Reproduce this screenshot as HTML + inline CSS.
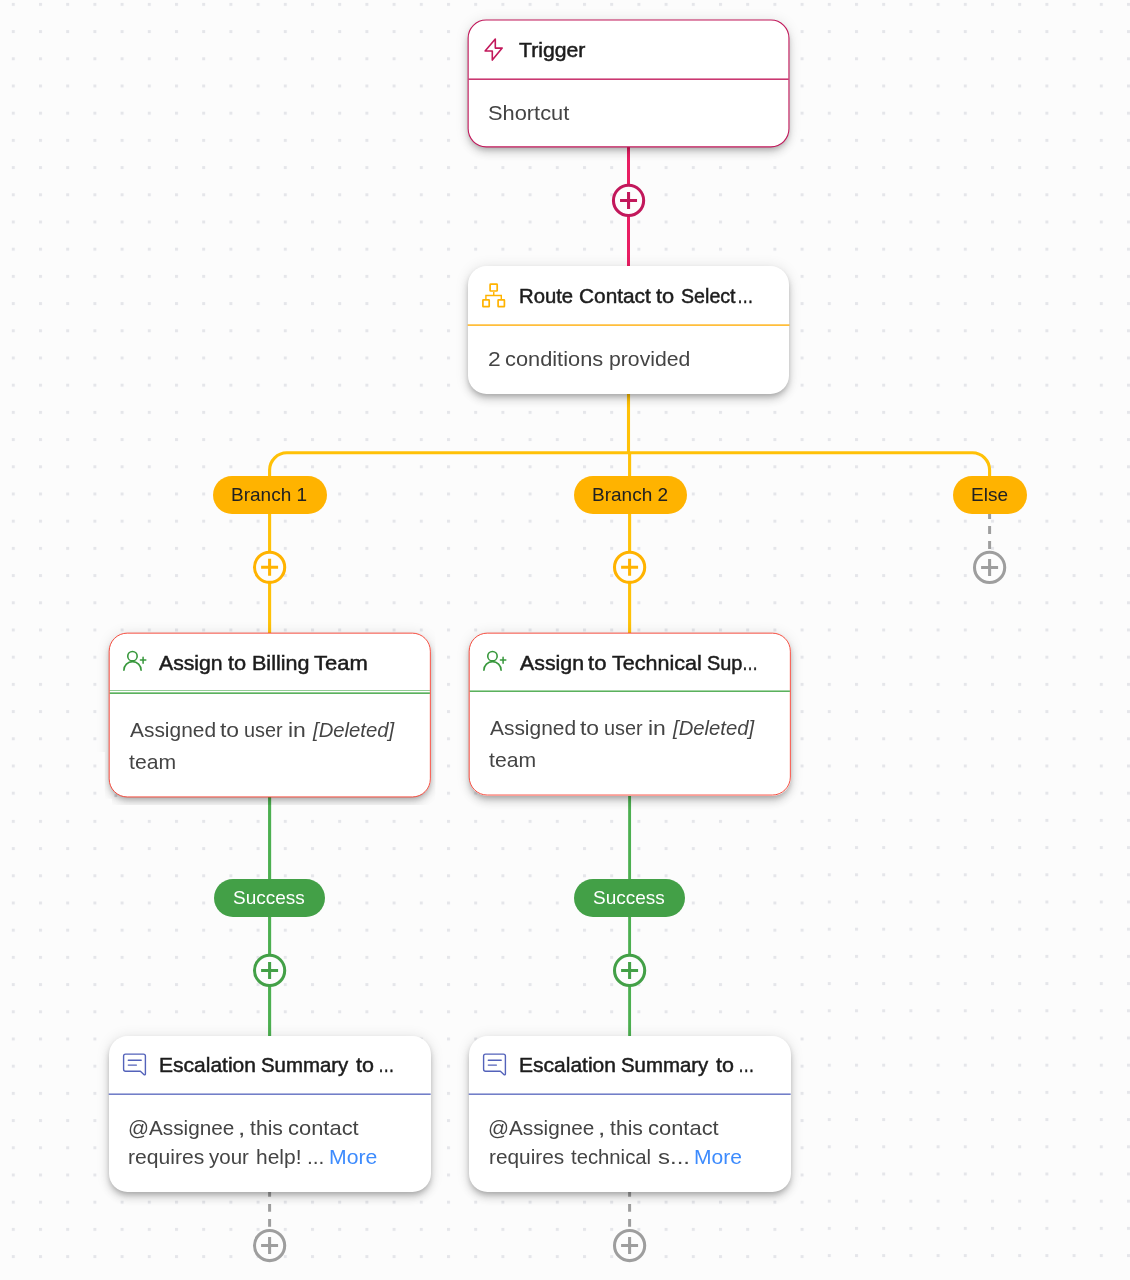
<!DOCTYPE html>
<html lang="en">
<head>
<meta charset="utf-8">
<title>Workflow</title>
<style>
html,body{margin:0;padding:0;}
body{width:1130px;height:1280px;overflow:hidden;position:relative;background:#fcfcfc;font-family:"Liberation Sans",sans-serif;}
#bg,#lines,#icons{position:absolute;left:0;top:0;width:1130px;height:1280px;}
#lines{z-index:1;}
#txt{position:absolute;left:0;top:0;width:1130px;height:1280px;z-index:4;will-change:transform;}
#icons{z-index:5;pointer-events:none;}
.node{position:absolute;box-sizing:border-box;background:#fff;border-radius:18.5px;
  box-shadow:0 3px 5px -1px rgba(0,0,0,.19),0 6px 8px 0 rgba(0,0,0,.135),0 1px 14px 0 rgba(0,0,0,.115);z-index:2;}
.t{position:absolute;white-space:nowrap;font-size:21px;line-height:24px;color:#1c1c1c;font-weight:normal;-webkit-text-stroke:0.5px #1c1c1c;transform-origin:0 50%;z-index:4;}
.b{position:absolute;white-space:nowrap;font-size:21px;line-height:24px;color:#444;transform-origin:0 50%;z-index:4;}
.i{font-style:italic;}
.more{color:#3d8bfd;}
.pill{position:absolute;box-sizing:border-box;height:38px;border-radius:19px;z-index:3;text-align:center;font-size:19px;line-height:38px;color:#212121;white-space:nowrap;}
.pill span{will-change:transform;display:inline-block;position:relative;left:-0.7px;}
.amber{background:#ffb300;}
.green{background:#43a047;color:#fff;}
.clip{position:absolute;z-index:2;}
</style>
</head>
<body>
<svg id="bg" width="1130" height="1280">
  <defs>
    <pattern id="dots" x="11.8" y="2.9" width="27.2" height="27.2" patternUnits="userSpaceOnUse">
      <rect x="0" y="0" width="3" height="3" fill="#e5e6ea"/>
    </pattern>
    <pattern id="dots2" x="11.8" y="3.9" width="27.2" height="27.2" patternUnits="userSpaceOnUse">
      <rect x="0" y="0" width="3" height="3" fill="#e5e6ea"/>
    </pattern>
  </defs>
  <rect width="1130" height="1280" fill="url(#dots)"/>
  <rect x="0" y="816" width="816" height="464" fill="#fcfcfc"/>
  <rect x="0" y="816" width="816" height="464" fill="url(#dots2)"/>
  <rect x="114.4" y="794.3" width="2.8" height="2.8" fill="#d6d7dc"/>
</svg>

<svg id="lines" width="1130" height="1280">
  <!-- trigger to route -->
  <line x1="628.5" y1="140" x2="628.5" y2="270" stroke="#e91e63" stroke-width="3"/>
  <!-- route to branches -->
  <g fill="none" stroke="#ffc107" stroke-width="3.1">
    <path d="M628.5 390 V453"/>
    <path d="M629.6 452 V640"/>
    <path d="M269.6 640 V470 A17.3 17.3 0 0 1 286.9 452.75 H972.3 A17.3 17.3 0 0 1 989.6 470 V480"/>
  </g>
  <!-- else dashed -->
  <line x1="989.6" y1="511.1" x2="989.6" y2="552" stroke="#9e9e9e" stroke-width="3" stroke-dasharray="7.8 7.2"/>
  <!-- success lines -->
  <g stroke="#4caf50">
    <line x1="269.6" y1="790" x2="269.6" y2="1040" stroke-width="3.1"/>
    <line x1="629.6" y1="790" x2="629.6" y2="1040" stroke-width="2.9"/>
  </g>
  <!-- bottom dashed -->
  <g stroke="#9e9e9e" stroke-width="3" stroke-dasharray="7.8 7.2">
    <line x1="269.6" y1="1189" x2="269.6" y2="1230"/>
    <line x1="629.6" y1="1189" x2="629.6" y2="1230"/>
  </g>
  <!-- add buttons -->
  <defs>
    <g id="add">
      <circle r="15.1" fill="#fdfdfd" stroke-width="3.05"/>
      <path d="M-8.5 0H8.5M0 -8.5V8.5" stroke-width="3.05" fill="none"/>
    </g>
  </defs>
  <use href="#add" x="628.55" y="200.4" stroke="#c2185b"/>
  <use href="#add" x="269.6" y="567.3" stroke="#ffb300"/>
  <use href="#add" x="629.6" y="567.3" stroke="#ffb300"/>
  <use href="#add" x="989.6" y="567.4" stroke="#9e9e9e"/>
  <use href="#add" x="269.6" y="970.4" stroke="#43a047"/>
  <use href="#add" x="629.6" y="970.4" stroke="#43a047"/>
  <use href="#add" x="269.6" y="1245.5" stroke="#9e9e9e"/>
  <use href="#add" x="629.6" y="1245.5" stroke="#9e9e9e"/>
</svg>

<!-- Trigger -->
<div class="node" style="left:467.6px;top:19.5px;width:321.9px;height:127.9px;"></div>

<!-- Route -->
<div class="node" style="left:467.7px;top:265.8px;width:321.8px;height:127.8px;"></div>

<!-- Branch pills -->
<div class="pill amber" style="left:212.9px;top:475.5px;width:113.7px;"><span>Branch 1</span></div>
<div class="pill amber" style="left:573.6px;top:475.5px;width:113.2px;"><span style="left:0px">Branch 2</span></div>
<div class="pill amber" style="left:952.6px;top:475.5px;width:74.2px;"><span>Else</span></div>

<!-- Assign 1 -->
<div class="clip" style="left:90px;top:615px;width:350px;height:195px;clip-path:polygon(5.00px 0.00px,345.50px 0.00px,345.50px 189.90px,21.80px 189.90px,21.80px 183.85px,14.70px 183.85px,14.70px 137.00px,5.00px 137.00px);"><div class="node" style="left:18.65px;top:17.6px;width:322.25px;height:164.9px;"></div></div>

<!-- Assign 2 -->
<div class="node" style="left:468.65px;top:632.6px;width:322.25px;height:163px;"></div>

<!-- Success pills -->
<div class="pill green" style="left:214.1px;top:878.6px;width:110.5px;"><span>Success</span></div>
<div class="pill green" style="left:574.1px;top:878.6px;width:110.5px;"><span>Success</span></div>

<!-- Escalation 1 -->
<div class="node" style="left:108.7px;top:1035.9px;width:322px;height:155.9px;"></div>

<!-- Escalation 2 -->
<div class="node" style="left:468.7px;top:1035.9px;width:322px;height:155.9px;"></div>

<div id="txt">
<div id="x1_0" class="t" style="left:519.25px;top:38px;transform:scaleX(1.0101)">Trigger</div>
<div id="x2_0" class="b" style="left:487.79px;top:101px;transform:scaleX(1.0397)">Shortcut</div>
<div id="x3_0" class="t" style="left:518.53px;top:283.5px;transform:scaleX(0.9656)">Route </div>
<div id="x3_1" class="t" style="left:578.87px;top:283.5px;transform:scaleX(0.9919)">Contact </div>
<div id="x3_2" class="t" style="left:655.94px;top:283.5px;transform:scaleX(1.0383)">to </div>
<div id="x3_3" class="t nosp" style="left:680.50px;top:283.5px;transform:scaleX(0.9349)">Select</div>
<div id="x3_4" class="t" style="left:736.70px;top:283.5px;transform:scaleX(0.7828)">…</div>
<div id="x4_0" class="b" style="left:488.00px;top:347px;transform:scaleX(1.0892)">2 </div>
<div id="x4_1" class="b" style="left:504.99px;top:347px;transform:scaleX(1.0381)">conditions </div>
<div id="x4_2" class="b" style="left:608.67px;top:347px;transform:scaleX(1.0099)">provided</div>
<div id="x5_0" class="t" style="left:159.40px;top:650.5px;transform:scaleX(1.0097)">Assign </div>
<div id="x5_1" class="t" style="left:228.08px;top:650.5px;transform:scaleX(1.0382)">to </div>
<div id="x5_2" class="t" style="left:251.79px;top:650.5px;transform:scaleX(1.0257)">Billing </div>
<div id="x5_3" class="t" style="left:313.56px;top:650.5px;transform:scaleX(1.0463)">Team</div>
<div id="x6_0" class="b" style="left:129.79px;top:718px;transform:scaleX(0.9956)">Assigned </div>
<div id="x6_1" class="b" style="left:219.83px;top:718px;transform:scaleX(1.0921)">to </div>
<div id="x6_2" class="b" style="left:243.89px;top:718px;transform:scaleX(0.9465)">user </div>
<div id="x6_3" class="b" style="left:288.21px;top:718px;transform:scaleX(1.0935)">in </div>
<div id="x6_4" class="b i" style="left:312.54px;top:718px;transform:scaleX(0.9656)">[Deleted]</div>
<div id="x7_0" class="b" style="left:129.30px;top:750px;transform:scaleX(1.0071)">team</div>
<div id="x8_0" class="t" style="left:520.10px;top:650.5px;transform:scaleX(1.0151)">Assign </div>
<div id="x8_1" class="t" style="left:588.07px;top:650.5px;transform:scaleX(1.0502)">to </div>
<div id="x8_2" class="t" style="left:612.02px;top:650.5px;transform:scaleX(1.0245)">Technical </div>
<div id="x8_3" class="t nosp" style="left:706.80px;top:650.5px;transform:scaleX(0.9479)">Sup</div>
<div id="x8_4" class="t" style="left:742.09px;top:650.5px;transform:scaleX(0.7645)">…</div>
<div id="x9_0" class="b" style="left:489.79px;top:716px;transform:scaleX(0.9956)">Assigned </div>
<div id="x9_1" class="b" style="left:579.83px;top:716px;transform:scaleX(1.0921)">to </div>
<div id="x9_2" class="b" style="left:603.89px;top:716px;transform:scaleX(0.9465)">user </div>
<div id="x9_3" class="b" style="left:648.21px;top:716px;transform:scaleX(1.0935)">in </div>
<div id="x9_4" class="b i" style="left:672.54px;top:716px;transform:scaleX(0.9656)">[Deleted]</div>
<div id="x10_0" class="b" style="left:489.30px;top:748px;transform:scaleX(1.0071)">team</div>
<div id="x11_0" class="t" style="left:158.83px;top:1052.5px;transform:scaleX(1.0007)">Escalation </div>
<div id="x11_1" class="t" style="left:260.50px;top:1052.5px;transform:scaleX(0.9714)">Summary </div>
<div id="x11_2" class="t" style="left:355.93px;top:1052.5px;transform:scaleX(1.0232)">to </div>
<div id="x11_3" class="t" style="left:378.00px;top:1052.5px;transform:scaleX(0.7828)">…</div>
<div id="x12_0" class="b" style="left:128.15px;top:1116px;transform:scaleX(0.9864)">@Assignee </div>
<div id="x12_1" class="b" style="left:238.32px;top:1116px;transform:scaleX(1.2500)">, </div>
<div id="x12_2" class="b" style="left:250.08px;top:1116px;transform:scaleX(1.0073)">this </div>
<div id="x12_3" class="b" style="left:288.24px;top:1116px;transform:scaleX(1.0441)">contact</div>
<div id="x13_0" class="b" style="left:128.33px;top:1145px;transform:scaleX(1.0051)">requires </div>
<div id="x13_1" class="b" style="left:209.24px;top:1145px;transform:scaleX(0.9769)">your </div>
<div id="x13_2" class="b" style="left:256.31px;top:1145px;transform:scaleX(0.9981)">help! </div>
<div id="x13_3" class="b" style="left:307.30px;top:1145px;transform:scaleX(0.9921)">... </div>
<div id="x13_4" class="b more" style="left:329.19px;top:1145px;transform:scaleX(1.0084)">More</div>
<div id="x14_0" class="t" style="left:518.83px;top:1052.5px;transform:scaleX(1.0007)">Escalation </div>
<div id="x14_1" class="t" style="left:620.50px;top:1052.5px;transform:scaleX(0.9714)">Summary </div>
<div id="x14_2" class="t" style="left:715.93px;top:1052.5px;transform:scaleX(1.0232)">to </div>
<div id="x14_3" class="t" style="left:738.00px;top:1052.5px;transform:scaleX(0.7828)">…</div>
<div id="x15_0" class="b" style="left:488.15px;top:1116px;transform:scaleX(0.9864)">@Assignee </div>
<div id="x15_1" class="b" style="left:598.32px;top:1116px;transform:scaleX(1.2500)">, </div>
<div id="x15_2" class="b" style="left:610.08px;top:1116px;transform:scaleX(1.0073)">this </div>
<div id="x15_3" class="b" style="left:648.24px;top:1116px;transform:scaleX(1.0441)">contact</div>
<div id="x16_0" class="b" style="left:488.58px;top:1145px;transform:scaleX(0.9911)">requires </div>
<div id="x16_1" class="b" style="left:571.33px;top:1145px;transform:scaleX(0.9659)">technical </div>
<div id="x16_2" class="b" style="left:657.98px;top:1145px;transform:scaleX(1.1424)">s... </div>
<div id="x16_3" class="b more" style="left:694.09px;top:1145px;transform:scaleX(1.0033)">More</div>
</div>

<svg id="icons" width="1130" height="1280">
  <!-- node borders -->
  <rect x="468.15" y="20.05" width="320.8" height="126.8" rx="18" fill="none" stroke="#c2185b" stroke-width="1.1"/>
  <rect x="109.2" y="633.15" width="321.15" height="163.8" rx="18" fill="none" stroke="#f44336" stroke-width="0.95"/>
  <rect x="469.2" y="633.15" width="321.15" height="161.9" rx="18" fill="none" stroke="#f44336" stroke-width="0.95"/>
  <!-- dividers -->
  <rect x="468.6" y="78.5" width="320" height="1.36" fill="#c2185b"/>
  <rect x="467.7" y="324.4" width="321.8" height="1.4" fill="#ffae0c"/>
  <rect x="109.7" y="690.0" width="320.2" height="1" fill="#4aa94c" opacity="0.6"/>
  <rect x="109.7" y="692.4" width="320.2" height="1.5" fill="#4aa94c"/>
  <rect x="469.7" y="690.5" width="320.2" height="1.4" fill="#4aa94c"/>
  <rect x="108.7" y="1093.5" width="322" height="1.36" fill="#5c6bc0"/>
  <rect x="468.7" y="1093.5" width="322" height="1.36" fill="#5c6bc0"/>
  <!-- bolt -->
  <path d="M495.3 39 L495.3 48.1 L502.2 48.1 L492.3 60.1 L492.3 51 L485.1 51 Z" fill="none" stroke="#c2185b" stroke-width="1.6" stroke-linejoin="round"/>
  <!-- route tree -->
  <g fill="none" stroke="#ffb300">
    <rect x="490.1" y="284.2" width="7.1" height="6.8" stroke-width="1.7" rx="0.6"/>
    <rect x="482.9" y="299.9" width="6.3" height="6.7" stroke-width="1.7" rx="0.4"/>
    <rect x="498.1" y="299.9" width="6.3" height="6.7" stroke-width="1.7" rx="0.4"/>
    <path d="M493.75 291.9 V295.5 M485.9 299 V295.55 H501.3 V299" stroke-width="1.4"/>
  </g>
  <defs>
    <g id="padd" fill="none" stroke="#37973b" stroke-linecap="round">
      <circle cx="16.46" cy="14.16" r="4.7" stroke-width="1.6"/>
      <path d="M7.9 28.2 A8.6 8.6 0 0 1 25.1 28.2" stroke-width="1.6"/>
      <path d="M24.4 18.05 H29.8 M27.08 15.2 V21.2" stroke-width="1.5"/>
    </g>
    <g id="cmt" fill="none" stroke="#5362ba" stroke-width="1.4" stroke-linecap="round" stroke-linejoin="round">
      <path d="M9.6 10.1 H27.4 A2 2 0 0 1 29.4 12.1 V30.2 A0.8 0.8 0 0 1 28.1 30.7 L24.4 27.2 H9.6 A2 2 0 0 1 7.6 25.2 V12.1 A2 2 0 0 1 9.6 10.1 Z"/>
      <path d="M12.3 16.3 H25.2 M12.3 21.1 H20.4"/>
    </g>
  </defs>
  <use href="#padd" x="116" y="642"/>
  <use href="#padd" x="476" y="642"/>
  <use href="#cmt" x="116" y="1044"/>
  <use href="#cmt" x="476" y="1044"/>
</svg>
</body>
</html>
